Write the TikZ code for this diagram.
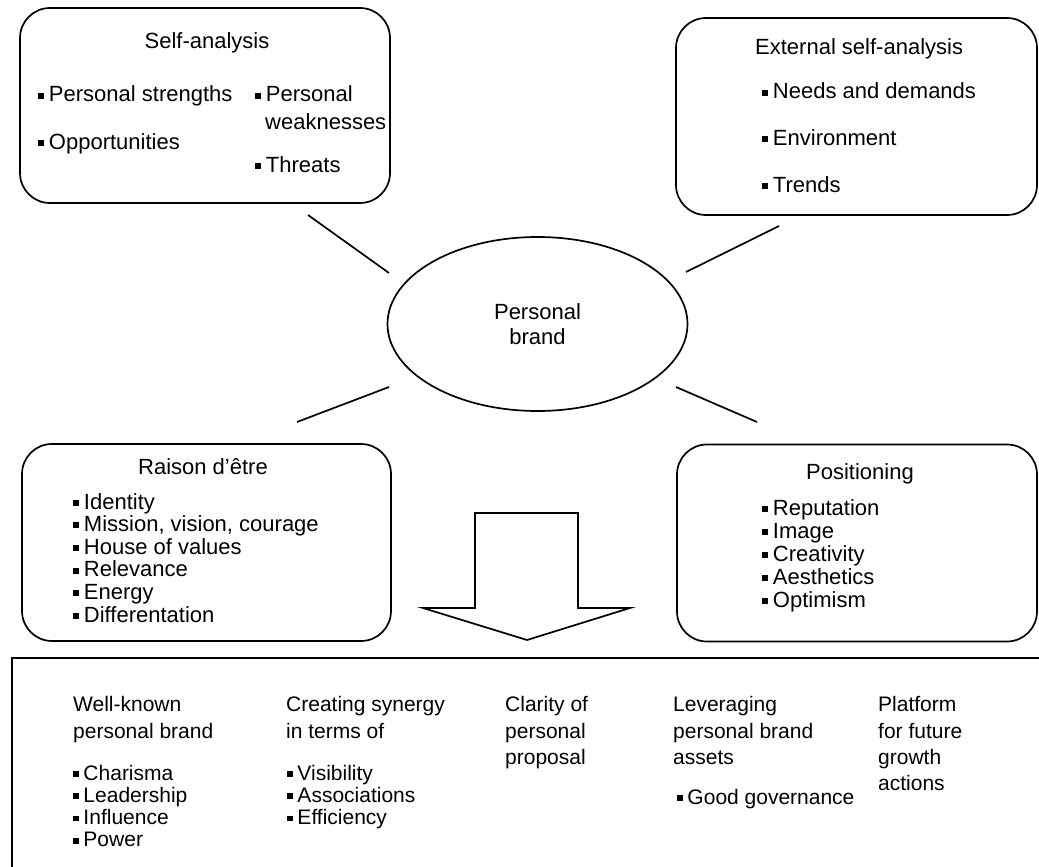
\documentclass[tikz,border=0pt]{standalone}
\usepackage{fontspec}
\setmainfont{Liberation Sans}
\usetikzlibrary{shapes.geometric}
\newcommand{\bul}{\rule[0.15em]{0.27em}{0.27em}\hspace{0.22em}}
\tikzset{
  box/.style={draw, line width=1.7pt, rounded corners=30pt, rectangle, inner sep=0pt},
  link/.style={line width=1.7pt},
  txt/.style={anchor=base west, inner sep=0pt, font=\fontsize{22}{26}\selectfont, text=black},
  ctxt/.style={txt, anchor=base},
  btxt/.style={txt, font=\fontsize{21}{25}\selectfont},
}
\begin{document}
\begin{tikzpicture}[x=1pt, y=-1pt]
\useasboundingbox (0,0) rectangle (1039,867);
\clip (0,0) rectangle (1039,867);

% boxes
\node[box, minimum width=370pt, minimum height=195pt] (sa) at (205,105.5) {};
\node[box, minimum width=361pt, minimum height=197pt] (ea) at (856.5,116.5) {};
\node[box, minimum width=369pt, minimum height=197pt] (rd) at (206.5,542.5) {};
\node[box, minimum width=360pt, minimum height=197pt] (po) at (857,543) {};
\node[draw, ellipse, line width=1.7pt, minimum width=300pt, minimum height=174pt, inner sep=0pt,
      align=center, font=\fontsize{22}{25}\selectfont] (pb) at (537.5,324) {Personal\\brand};

% bottom frame
\node[draw, line width=1.7pt, rectangle, anchor=north west, minimum width=1060pt, minimum height=260pt, inner sep=0pt] (out) at (11,657) {};

% spokes
\coordinate (s1a) at (308,215); \coordinate (s1b) at (389,273);
\coordinate (s2a) at (686,272); \coordinate (s2b) at (779,226);
\coordinate (s3a) at (389,387); \coordinate (s3b) at (297,422);
\coordinate (s4a) at (676,387); \coordinate (s4b) at (757,422);
\draw[link] (s1a) -- (s1b);
\draw[link] (s2a) -- (s2b);
\draw[link] (s3a) -- (s3b);
\draw[link] (s4a) -- (s4b);

% big arrow
\draw[line width=1.7pt, fill=white] (475,513) -- (578,513) -- (578,608) -- (630,608) -- (527,640) -- (423,608) -- (475,608) -- cycle;

% Self-analysis
\node[ctxt] (saT) at (207,49) {Self-analysis};
\node[txt] (sa1) at (38,102) {\bul Personal strengths};
\node[txt] (sa2) at (38,149) {\bul Opportunities};
\node[txt] (sa3) at (255,102) {\bul Personal};
\node[txt] (sa4) at (265,129) {weaknesses};
\node[txt] (sa5) at (255,172) {\bul Threats};

% External self-analysis
\node[txt] (eaT) at (755,55) {External self-analysis};
\node[txt] (ea1) at (762,99) {\bul Needs and demands};
\node[txt] (ea2) at (762,145) {\bul Environment};
\node[txt] (ea3) at (762,192) {\bul Trends};

% Raison d'etre
\node[ctxt] (rdT) at (203,474) {Raison d'être};
\foreach \t [count=\i] in {Identity, {Mission, vision, courage}, House of values, Relevance, Energy, Differentation}
  \node[txt] (rd\i) at (73,{509+22.6*(\i-1)}) {\bul\t};

% Positioning
\node[ctxt] (poT) at (860,479) {Positioning};
\foreach \t [count=\i] in {Reputation, Image, Creativity, Aesthetics, Optimism}
  \node[txt] (po\i) at (762,{515+23*(\i-1)}) {\bul\t};

% bottom columns
\node[btxt] (c1a) at (73,711) {Well-known};
\node[btxt] (c1b) at (73,738) {personal brand};
\foreach \t [count=\i] in {Charisma, Leadership, Influence, Power}
  \node[btxt] (c1\i) at (73,{780+22.3*(\i-1)}) {\bul\t};

\node[btxt] (c2a) at (286,711) {Creating synergy};
\node[btxt] (c2b) at (286,738) {in terms of};
\foreach \t [count=\i] in {Visibility, Associations, Efficiency}
  \node[btxt] (c2\i) at (287,{780+22.3*(\i-1)}) {\bul\t};

\node[btxt] (c3a) at (505,711) {Clarity of};
\node[btxt] (c3b) at (505,738) {personal};
\node[btxt] (c3c) at (505,764) {proposal};

\node[btxt] (c4a) at (673,711) {Leveraging};
\node[btxt] (c4b) at (673,738) {personal brand};
\node[btxt] (c4c) at (673,764) {assets};
\node[btxt] (c41) at (677,804) {\bul Good governance};

\node[btxt] (c5a) at (878,711) {Platform};
\node[btxt] (c5b) at (878,738) {for future};
\node[btxt] (c5c) at (878,764) {growth};
\node[btxt] (c5d) at (878,790) {actions};
\end{tikzpicture}
\end{document}
